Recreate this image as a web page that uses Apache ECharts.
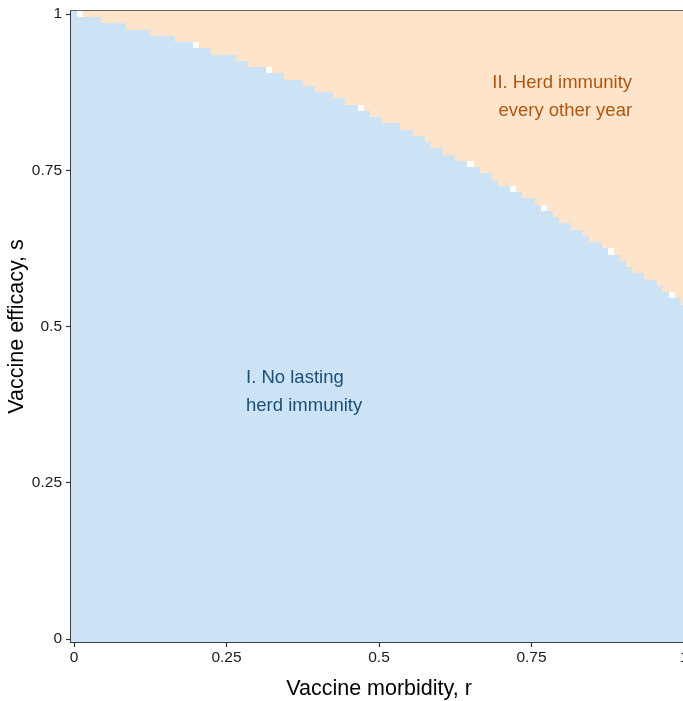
<!DOCTYPE html>
<html>
<head>
<meta charset="utf-8">
<script src="https://cdn.jsdelivr.net/npm/echarts@6/dist/echarts.min.js"></script>
<style>
  html, body { margin: 0; padding: 0; background: #fff; }
  #chart { width: 683px; height: 701px; }
</style>
</head>
<body>
<div id="chart"></div>
<script>
// highest s (vaccine efficacy) still in region I, for r = 0, 0.01, ... 1
var blueTop = [
  1.00, 0.99, 0.99, 0.99, 0.99, 0.98, 0.98, 0.98, 0.98, 0.97,
  0.97, 0.97, 0.97, 0.96, 0.96, 0.96, 0.96, 0.95, 0.95, 0.95,
  0.94, 0.94, 0.94, 0.93, 0.93, 0.93, 0.93, 0.92, 0.92, 0.91,
  0.91, 0.91, 0.90, 0.90, 0.90, 0.89, 0.89, 0.89, 0.88, 0.88,
  0.87, 0.87, 0.87, 0.86, 0.86, 0.85, 0.85, 0.84, 0.84, 0.83,
  0.83, 0.82, 0.82, 0.82, 0.81, 0.81, 0.80, 0.80, 0.79, 0.78,
  0.78, 0.77, 0.77, 0.76, 0.76, 0.75, 0.75, 0.74, 0.74, 0.73,
  0.72, 0.72, 0.71, 0.71, 0.70, 0.70, 0.69, 0.68, 0.68, 0.67,
  0.66, 0.66, 0.65, 0.65, 0.64, 0.63, 0.63, 0.62, 0.61, 0.61,
  0.60, 0.59, 0.58, 0.58, 0.57, 0.57, 0.56, 0.55, 0.54, 0.54,
  0.53
]
// missing cells along the boundary
var whiteR = [0.01, 0.20, 0.32, 0.47, 0.65, 0.72, 0.77, 0.88, 0.98]
var whiteS = [1.00, 0.95, 0.91, 0.85, 0.76, 0.72, 0.69, 0.62, 0.55]

var tickValues = [0, 0.25, 0.5, 0.75, 1]

var labelText = ['I. No lasting\nherd immunity', 'II. Herd immunity\nevery other year']
var labelR = [0.282, 0.915]
var labelS = [0.396, 0.868]

var step = 0.01
var half = step / 2

var columns = []
for (let i = 0; i < blueTop.length; i++) {
  columns.push([i * step, blueTop[i]])
}
var whiteCells = []
for (let i = 0; i < whiteR.length; i++) {
  whiteCells.push([whiteR[i], whiteS[i]])
}

function renderColumn(params, api) {
  var r = api.value(0)
  var top = api.value(1)
  var a = api.coord([r - half, -half])
  var b = api.coord([r + half, top + half])
  var c = api.coord([r + half, 1 + half])
  var x0 = Math.round(a[0]), x1 = Math.round(b[0])
  var y0 = Math.round(a[1]), y1 = Math.round(b[1]), y2 = Math.round(c[1])
  return {
    type: 'group',
    children: [
      { type: 'rect', shape: { x: x0, y: y1, width: x1 - x0, height: y0 - y1 }, style: { fill: '#cce3f5' } },
      { type: 'rect', shape: { x: x0, y: y2, width: x1 - x0, height: y1 - y2 }, style: { fill: '#ffe4cc' } }
    ]
  }
}

function renderWhite(params, api) {
  var r = api.value(0)
  var s = api.value(1)
  var a = api.coord([r - half, s - half])
  var b = api.coord([r + half, s + half])
  var x0 = Math.round(a[0]), x1 = Math.round(b[0])
  var y0 = Math.round(a[1]), y1 = Math.round(b[1])
  return {
    type: 'rect',
    shape: { x: x0, y: y1, width: x1 - x0, height: y0 - y1 },
    style: { fill: '#ffffff' }
  }
}

var labels = []
for (let i = 0; i < labelText.length; i++) {
  labels.push({
    value: [labelR[i], labelS[i]],
    label: {
      formatter: labelText[i],
      align: i == 0 ? 'left' : 'right',
      color: i == 0 ? '#1b4f78' : '#b0560c'
    }
  })
}

var axisCommon = {
  type: 'value',
  min: -half,
  max: 1 + half,
  splitLine: { show: false },
  axisLine: { show: true, onZero: false, lineStyle: { color: '#333333', width: 1.5 } },
  axisTick: { show: true, inside: false, length: 5, customValues: tickValues, lineStyle: { color: '#333333', width: 1.2 } },
  axisLabel: {
    customValues: tickValues,
    color: '#1a1a1a',
    fontSize: 15.5,
    fontFamily: 'Liberation Sans, Arial, sans-serif',
    formatter: function (v) { return String(+v.toFixed(2)) }
  },
  nameLocation: 'middle',
  nameMoveOverlap: false,
  nameTextStyle: { fontSize: 21.5, color: '#000', fontFamily: 'Liberation Sans, Arial, sans-serif' }
}

var myChart = echarts.init(document.getElementById('chart'), null, { renderer: 'canvas' })
myChart.setOption({
  animation: false,
  backgroundColor: '#ffffff',
  grid: {
    left: 71, right: -4, top: 11, bottom: 59,
    outerBoundsMode: 'none',
    containLabel: false,
    show: true, borderColor: '#333333', borderWidth: 1.5, backgroundColor: 'transparent'
  },
  xAxis: Object.assign({}, axisCommon, {
    name: 'Vaccine morbidity, r',
    nameGap: 36,
    axisLabel: Object.assign({}, axisCommon.axisLabel, { margin: 8 })
  }),
  yAxis: Object.assign({}, axisCommon, {
    name: 'Vaccine efficacy, s',
    nameGap: 43,
    axisLabel: Object.assign({}, axisCommon.axisLabel, { margin: 9 })
  }),
  series: [
    { type: 'custom', renderItem: renderColumn, data: columns, encode: { x: 0, y: 1 }, z: 1 },
    { type: 'custom', renderItem: renderWhite, data: whiteCells, encode: { x: 0, y: 1 }, z: 2 },
    {
      type: 'scatter',
      symbolSize: 0,
      z: 3,
      itemStyle: { opacity: 1 },
      label: {
        show: true,
        position: 'inside',
        verticalAlign: 'middle',
        fontSize: 18.5,
        lineHeight: 28,
        fontFamily: 'Liberation Sans, Arial, sans-serif'
      },
      data: labels
    }
  ]
})
</script>
</body>
</html>
